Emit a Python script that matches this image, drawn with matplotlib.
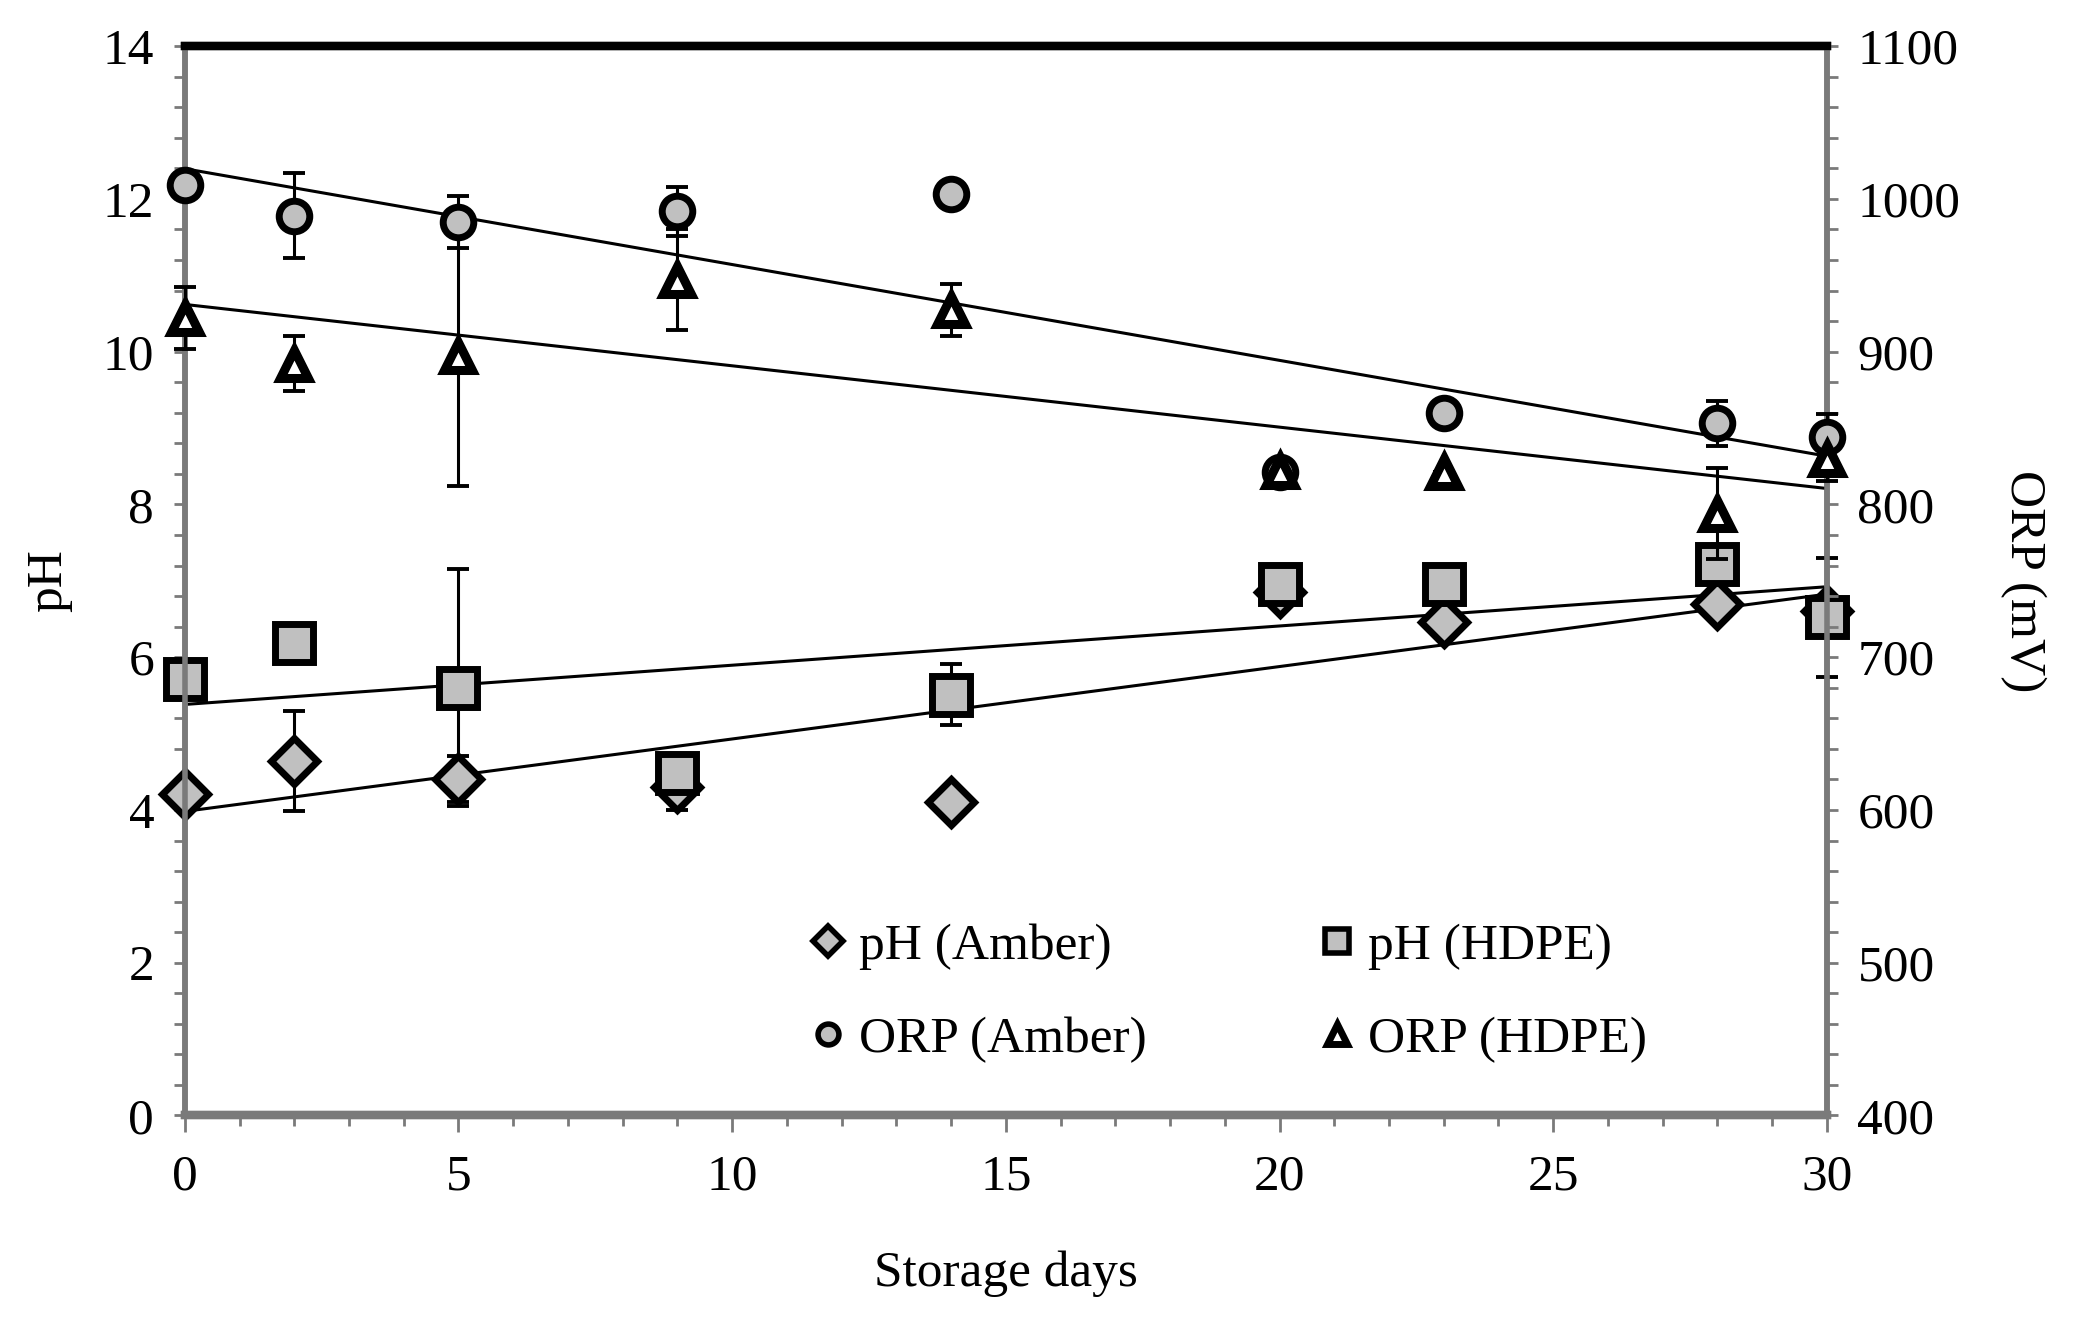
import matplotlib.pyplot as plt
import numpy as np
from matplotlib.lines import Line2D
from matplotlib.ticker import MultipleLocator

# storage days
days = [0, 2, 5, 9, 14, 20, 23, 28, 30]

# pH (left axis)
ph_amber = [4.21, 4.64, 4.40, 4.30, 4.10, 6.85, 6.46, 6.69, 6.60]
ph_amber_err = [0, 0.66, 0.30, 0.30, 0, 0, 0, 0, 0]
ph_hdpe = [5.72, 6.19, 5.60, 4.48, 5.51, 6.96, 6.96, 7.22, 6.52]
ph_hdpe_err = [0, 0, 1.55, 0.15, 0.40, 0, 0, 0.20, 0.78]

# ORP in mV (right axis)
orp_amber = [1009, 989, 985, 992, 1003, 821, 860, 853, 844]
orp_amber_err = [0, 28, 17, 16, 0, 0, 0, 15, 15]
orp_hdpe = [922, 892, 897, 947, 927, 822, 821, 794, 830]
orp_hdpe_err = [20, 18, 85, 33, 17, 0, 0, 30, 15]

plt.rcParams['font.family'] = ['Liberation Serif', 'DejaVu Serif']
plt.rcParams['font.size'] = 37

grey = '#c0c0c0'
spine_grey = '#7a7a7a'

fig = plt.figure(figsize=(20.76, 13.17), dpi=100)
ax = fig.add_axes([0.089, 0.153, 0.791, 0.812])
ax2 = ax.twinx()

xx = np.array([0, 30])

def draw(a, x, y, err, marker, ms, face, mew=5):
    k, b = np.polyfit(x, y, 1)
    a.plot(xx, k * xx + b, color='k', lw=2.2, zorder=2)
    a.errorbar(x, y, yerr=err, fmt='none', ecolor='k', elinewidth=2.2,
               capsize=8, capthick=2.8, zorder=3, clip_on=False)
    a.plot(x, y, linestyle='none', marker=marker, ms=ms, mfc=face, mec='k',
           mew=mew, zorder=4, clip_on=False)

draw(ax, days, ph_amber, ph_amber_err, 'D', 23, grey)
draw(ax, days, ph_hdpe, ph_hdpe_err, 's', 27, grey)
draw(ax2, days, orp_amber, orp_amber_err, 'o', 22, grey)
draw(ax2, days, orp_hdpe, orp_hdpe_err, '^', 20, 'white', mew=6.5)

ax.set_xlim(0, 30)
ax.set_ylim(0, 14)
ax2.set_ylim(400, 1100)

ax.xaxis.set_major_locator(MultipleLocator(5))
ax.xaxis.set_minor_locator(MultipleLocator(1))
ax.yaxis.set_major_locator(MultipleLocator(2))
ax.yaxis.set_minor_locator(MultipleLocator(0.4))
ax2.yaxis.set_major_locator(MultipleLocator(100))
ax2.yaxis.set_minor_locator(MultipleLocator(20))

ax.tick_params(axis='x', which='major', direction='out', length=12, width=2,
               color=spine_grey, pad=16)
ax.tick_params(axis='x', which='minor', direction='out', length=8, width=2,
               color=spine_grey)
ax.tick_params(axis='y', which='both', direction='out', length=8, width=2,
               color=spine_grey, pad=14)
ax2.tick_params(axis='y', which='both', direction='out', length=8, width=2,
                color=spine_grey, pad=14)

for a in (ax, ax2):
    a.spines['left'].set_color(spine_grey)
    a.spines['left'].set_linewidth(4)
    a.spines['right'].set_color(spine_grey)
    a.spines['right'].set_linewidth(4)
    a.spines['bottom'].set_color(spine_grey)
    a.spines['bottom'].set_linewidth(6)
    a.spines['top'].set_color('k')
    a.spines['top'].set_linewidth(6)

ax.set_xlabel('Storage days', labelpad=36)
ax.set_ylabel('pH', labelpad=22)
ax2.set_ylabel('ORP (mV)', rotation=270, labelpad=62)

def handle(marker, ms, face, mew=4):
    return Line2D([], [], linestyle='none', marker=marker, ms=ms, mfc=face,
                  mec='k', mew=mew)

handles = [handle('D', 15, grey), handle('o', 15, grey),
           handle('s', 17, grey), handle('^', 14, 'white', mew=5)]
labels = ['pH (Amber)', 'ORP (Amber)', 'pH (HDPE)', 'ORP (HDPE)']
ax2.legend(handles, labels, ncol=2, frameon=False, loc='lower left',
           bbox_to_anchor=(0.345, 0.006), handletextpad=0.0,
           columnspacing=3.1, labelspacing=0.9, handlelength=1.2,
           fontsize=37)

fig.savefig('out.png', dpi=100)
